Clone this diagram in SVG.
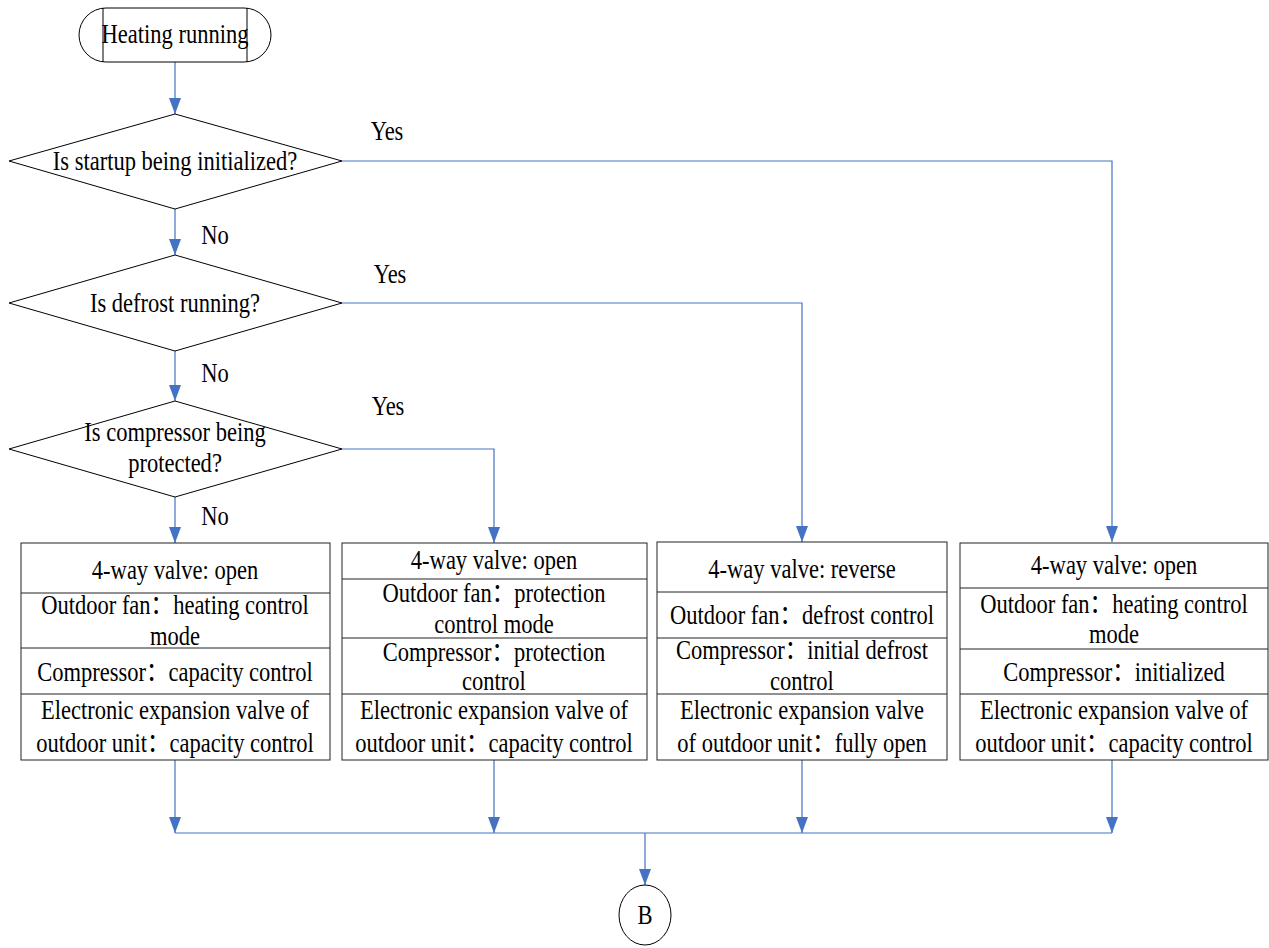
<svg xmlns="http://www.w3.org/2000/svg" width="1269" height="948" viewBox="0 0 1269 948">
<defs>
<style>
.t{font-family:"Liberation Serif","Times New Roman","Noto Sans CJK SC",serif;font-size:26.5px;fill:#000;text-anchor:middle}
.n{fill:#fff;stroke:#000;stroke-width:1}
.b{fill:#fff;stroke:#222;stroke-width:1}
.c{fill:none;stroke:#4472C4;stroke-width:1.2}
</style>
<marker id="ah" markerUnits="userSpaceOnUse" markerWidth="17" markerHeight="13" refX="16" refY="6" orient="auto" viewBox="0 0 17 12">
<path d="M0,0 L16,6 L0,12 Z" fill="#4472C4"/>
</marker>
</defs>
<rect width="1269" height="948" fill="#fff"/>

<g id="connectors">
<path class="c" d="M175,62 V114" marker-end="url(#ah)"/>
<path class="c" d="M175,209 V255" marker-end="url(#ah)"/>
<path class="c" d="M175,351 V401" marker-end="url(#ah)"/>
<path class="c" d="M175,497 V543" marker-end="url(#ah)"/>
<path class="c" d="M342,161 H1112 V542" marker-end="url(#ah)"/>
<path class="c" d="M342,303 H802 V542" marker-end="url(#ah)"/>
<path class="c" d="M342,449 H494 V543" marker-end="url(#ah)"/>
<path class="c" d="M175,760 V833" marker-end="url(#ah)"/>
<path class="c" d="M494,760 V833" marker-end="url(#ah)"/>
<path class="c" d="M802,760 V833" marker-end="url(#ah)"/>
<path class="c" d="M1112,760 V833" marker-end="url(#ah)"/>
<path class="c" d="M175,833 H1112"/>
<path class="c" d="M645,833 V885" marker-end="url(#ah)"/>
<text class="t" transform="translate(387,140) scale(0.85,1)">Yes</text>
<text class="t" transform="translate(390,283) scale(0.85,1)">Yes</text>
<text class="t" transform="translate(388,415) scale(0.85,1)">Yes</text>
<text class="t" transform="translate(215,244) scale(0.85,1)">No</text>
<text class="t" transform="translate(215,382) scale(0.85,1)">No</text>
<text class="t" transform="translate(215,525) scale(0.85,1)">No</text>
</g>

<g id="start">
<rect class="n" x="79" y="8" width="192" height="54" rx="27" ry="27"/>
<line x1="103" y1="8" x2="103" y2="62" stroke="#000"/>
<line x1="247" y1="8" x2="247" y2="62" stroke="#000"/>
<text class="t" transform="translate(175,43) scale(0.85,1)">Heating running</text>
</g>

<g id="d1">
<polygon class="n" points="175,114 342,161 175,209 9,161"/>
<text class="t" transform="translate(175,170) scale(0.85,1)">Is startup being initialized?</text>
</g>

<g id="d2">
<polygon class="n" points="175,255 342,303 175,351 9,303"/>
<text class="t" transform="translate(175,312) scale(0.85,1)">Is defrost running?</text>
</g>

<g id="d3">
<polygon class="n" points="175,401 342,449 175,497 9,449"/>
<text class="t" transform="translate(175,441) scale(0.85,1)">Is compressor being</text>
<text class="t" transform="translate(175,472) scale(0.85,1)">protected?</text>
</g>

<g id="box1">
<rect class="b" x="21" y="543" width="309" height="217"/>
<line class="b" x1="21" y1="593" x2="330" y2="593"/>
<line class="b" x1="21" y1="648" x2="330" y2="648"/>
<line class="b" x1="21" y1="694" x2="330" y2="694"/>
<text class="t" transform="translate(175,579) scale(0.85,1)">4-way valve: open</text>
<text class="t" transform="translate(175,614) scale(0.85,1)">Outdoor fan：heating control</text>
<text class="t" transform="translate(175,645) scale(0.85,1)">mode</text>
<text class="t" transform="translate(175,681) scale(0.85,1)">Compressor：capacity control</text>
<text class="t" transform="translate(175,719) scale(0.85,1)">Electronic expansion valve of</text>
<text class="t" transform="translate(175,752) scale(0.85,1)">outdoor unit：capacity control</text>
</g>

<g id="box2">
<rect class="b" x="342" y="543" width="305" height="217"/>
<line class="b" x1="342" y1="579" x2="647" y2="579"/>
<line class="b" x1="342" y1="638" x2="647" y2="638"/>
<line class="b" x1="342" y1="694" x2="647" y2="694"/>
<text class="t" transform="translate(494,569) scale(0.85,1)">4-way valve: open</text>
<text class="t" transform="translate(494,602) scale(0.85,1)">Outdoor fan：protection</text>
<text class="t" transform="translate(494,633) scale(0.85,1)">control mode</text>
<text class="t" transform="translate(494,661) scale(0.85,1)">Compressor：protection</text>
<text class="t" transform="translate(494,690) scale(0.85,1)">control</text>
<text class="t" transform="translate(494,719) scale(0.85,1)">Electronic expansion valve of</text>
<text class="t" transform="translate(494,752) scale(0.85,1)">outdoor unit：capacity control</text>
</g>

<g id="box3">
<rect class="b" x="657" y="542" width="290" height="218"/>
<line class="b" x1="657" y1="592" x2="947" y2="592"/>
<line class="b" x1="657" y1="638" x2="947" y2="638"/>
<line class="b" x1="657" y1="694" x2="947" y2="694"/>
<text class="t" transform="translate(802,578) scale(0.85,1)">4-way valve: reverse</text>
<text class="t" transform="translate(802,624) scale(0.85,1)">Outdoor fan：defrost control</text>
<text class="t" transform="translate(802,659) scale(0.85,1)">Compressor：initial defrost</text>
<text class="t" transform="translate(802,690) scale(0.85,1)">control</text>
<text class="t" transform="translate(802,719) scale(0.85,1)">Electronic expansion valve</text>
<text class="t" transform="translate(802,752) scale(0.85,1)">of outdoor unit：fully open</text>
</g>

<g id="box4">
<rect class="b" x="960" y="543" width="308" height="217"/>
<line class="b" x1="960" y1="588" x2="1268" y2="588"/>
<line class="b" x1="960" y1="649" x2="1268" y2="649"/>
<line class="b" x1="960" y1="694" x2="1268" y2="694"/>
<text class="t" transform="translate(1114,574) scale(0.85,1)">4-way valve: open</text>
<text class="t" transform="translate(1114,613) scale(0.85,1)">Outdoor fan：heating control</text>
<text class="t" transform="translate(1114,643) scale(0.85,1)">mode</text>
<text class="t" transform="translate(1114,681) scale(0.85,1)">Compressor：initialized</text>
<text class="t" transform="translate(1114,719) scale(0.85,1)">Electronic expansion valve of</text>
<text class="t" transform="translate(1114,752) scale(0.85,1)">outdoor unit：capacity control</text>
</g>

<g id="end">
<ellipse class="n" cx="645" cy="915" rx="26" ry="30"/>
<text class="t" transform="translate(645,924) scale(0.85,1)">B</text>
</g>
</svg>
